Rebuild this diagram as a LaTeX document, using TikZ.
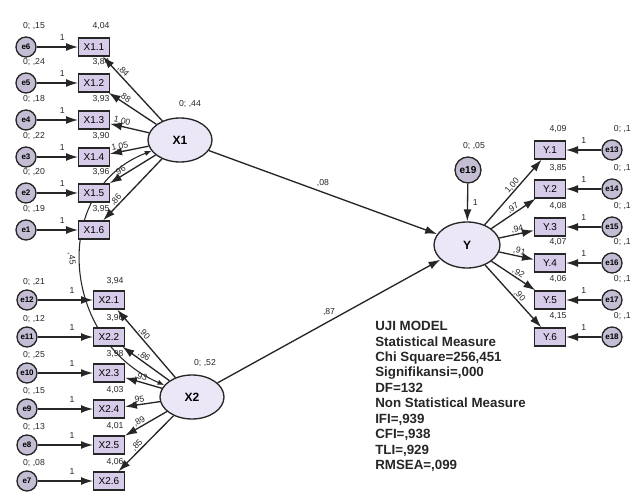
\documentclass[tikz,border=0pt]{standalone}
\usepackage{fontspec}
\setmainfont{Liberation Sans}
\usetikzlibrary{arrows.meta,shapes.geometric}
\definecolor{boxfill}{HTML}{D6CCEA}
\definecolor{ellfill}{HTML}{ECE7F7}
\definecolor{errfill}{HTML}{C4BDD4}
\definecolor{ink}{HTML}{262626}
\begin{document}
\begin{tikzpicture}[x=0.75pt,y=-0.75pt,
  obs/.style={draw=ink, line width=1pt, fill=boxfill, minimum width=23pt, minimum height=13.5pt, inner sep=0pt, font=\fontsize{7.5}{8}\selectfont},
  lat/.style={ellipse, draw=ink, line width=1pt, fill=ellfill, minimum width=48pt, minimum height=33pt, inner sep=0pt, font=\bfseries\fontsize{9}{10}\selectfont},
  err/.style={circle, draw=ink, line width=1pt, fill=errfill, minimum size=15pt, inner sep=0pt, font=\bfseries\fontsize{6}{7}\selectfont},
  lab/.style={font=\fontsize{6.5}{7}\selectfont, inner sep=0.5pt, text=ink},
  arr/.style={-{Latex[length=9pt,width=6pt]}, line width=1pt, draw=ink},
  cov/.style={{Latex[length=5pt,width=4pt]}-{Latex[length=5pt,width=4pt]}, line width=0.8pt, draw=ink}]
\useasboundingbox (0,0) rectangle (633,496);

% latent variables
\node[lat] (X1) at (180,140) {X1};
\node[lat] (X2) at (192,397) {X2};
\node[lat, minimum width=49.5pt, minimum height=34.5pt] (Y) at (467,245) {Y};
\node[lab] (vX1) at (190,104) {0; ,44};
\node[lab] (vX2) at (205,363) {0; ,52};

% covariance
\draw[cov] (X1) .. controls (50,190) and (60,340) .. (X2) node[lab, pos=0.5, left=6pt, rotate=-82]{,45};

% X1 indicators
\foreach \ii/\yy/\ee/\vv/\mm/\ll in {1/47/e6/{,15}/{4,04}/{,84}, 2/83/e5/{,24}/{3,84}/{,88}, 3/120/e4/{,18}/{3,93}/{1,00}, 4/157/e3/{,22}/{3,90}/{1,05}, 5/193/e2/{,20}/{3,96}/{,96}, 6/230/e1/{,19}/{3,95}/{,86}}{
  \node[obs] (x1\ii) at (94,\yy) {X1.\ii};
  \node[err] (ex1\ii) at (26,\yy) {\ee};
  \draw[arr] (ex1\ii) -- (x1\ii) node[lab, pos=0.62, above=4pt]{1};
  \node[lab] at (34,\yy-21) {0; \vv};
  \node[lab] at (101,\yy-21) {\mm};
  \draw[arr] (X1) -- (x1\ii) node[lab, pos=0.72, sloped, above]{\ll};
}

% X2 indicators
\foreach \ii/\yy/\ee/\vv/\mm/\ll in {1/300/e12/{,21}/{3,94}/{,90}, 2/337/e11/{,12}/{3,96}/{,86}, 3/373/e10/{,25}/{3,98}/{,93}, 4/409/e9/{,15}/{4,03}/{,95}, 5/445/e8/{,13}/{4,01}/{,89}, 6/481/e7/{,08}/{4,06}/{,85}}{
  \node[obs] (x2\ii) at (109,\yy) {X2.\ii};
  \node[err] (ex2\ii) at (27,\yy) {\ee};
  \draw[arr] (ex2\ii) -- (x2\ii) node[lab, pos=0.62, above=4pt]{1};
  \node[lab] at (34,\yy-18) {0; \vv};
  \node[lab] at (115,\yy-19) {\mm};
  \draw[arr] (X2) -- (x2\ii) node[lab, pos=0.6, sloped, above]{\ll};
}

% Y indicators
\foreach \ii/\yy/\ee/\mm/\ll in {1/150/e13/{4,09}/{1,00}, 2/189/e14/{3,85}/{,97}, 3/227/e15/{4,08}/{,94}, 4/263/e16/{4,07}/{,91}, 5/300/e17/{4,06}/{,92}, 6/337/e18/{4,15}/{,90}}{
  \node[obs] (y\ii) at (550,\yy) {Y.\ii};
  \node[err] (ey\ii) at (612,\yy) {\ee};
  \draw[arr] (ey\ii) -- (y\ii) node[lab, pos=0.5, above=4pt]{1};
  \node[lab, anchor=west] at (613,\yy-21) {0; ,1};
  \node[lab] at (558,\yy-21) {\mm};
  \draw[arr] (Y) -- (y\ii) node[lab, pos=0.55, sloped, above]{\ll};
}

% structural part
\node[err, minimum size=19.5pt, font=\bfseries\fontsize{7.5}{8}\selectfont] (e19) at (468,170) {e19};
\node[lab] (ve19) at (474,146) {0; ,05};
\draw[arr] (e19) -- (Y) node[lab, pos=0.5, right=3pt]{1};
\draw[arr] (X1) -- (Y) node[lab, pos=0.5, above=3pt]{,08};
\draw[arr] (X2) -- (Y) node[lab, pos=0.5, above=3pt]{,87};

% fit statistics
\node[anchor=north west, inner sep=0pt, align=left, text=ink,
      font=\bfseries\fontsize{10}{11.6}\selectfont] (fit) at (375,321)
  {UJI MODEL\\Statistical Measure\\Chi Square=256,451\\Signifikansi=,000\\DF=132\\Non Statistical Measure\\IFI=,939\\CFI=,938\\TLI=,929\\RMSEA=,099};
\end{tikzpicture}
\end{document}
